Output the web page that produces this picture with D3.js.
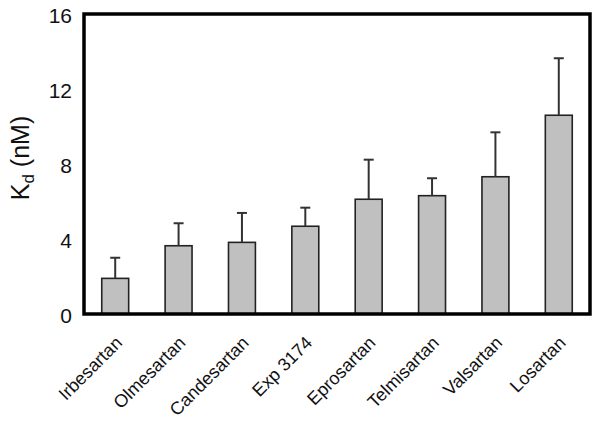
<!DOCTYPE html>
<html><head><meta charset="utf-8">
<script src="https://cdn.jsdelivr.net/npm/d3@7"></script>
<style>body{margin:0;background:#fff}svg{display:block}text{font-family:"Liberation Sans",Arial,sans-serif}</style>
</head><body><svg id="c" width="600" height="422"></svg>
<script>
const categories = ["Irbesartan","Olmesartan","Candesartan","Exp 3174","Eprosartan","Telmisartan","Valsartan","Losartan"];
const kdValues = [1.9, 3.64, 3.82, 4.68, 6.12, 6.31, 7.32, 10.6];
const kdErrors = [1.1, 1.2, 1.57, 0.99, 2.11, 0.93, 2.37, 3.04];
const yTicks = [0, 4, 8, 12, 16];

const svg = d3.select("#c");
const L = 84, R = 590, T = 14, B = 314;
const x = d3.scaleBand().domain(categories).range([L, R]).paddingInner(0.575).paddingOuter(0.28);
const y = d3.scaleLinear().domain([0, 16]).range([B, T]);

// bars
svg.append("g").selectAll("rect").data(categories).join("rect")
  .attr("x", d => x(d)).attr("width", x.bandwidth())
  .attr("y", (d,i) => y(kdValues[i])).attr("height", (d,i) => y(0) - y(kdValues[i]))
  .attr("fill", "#c0c0c0").attr("stroke", "#222").attr("stroke-width", 1.6);

// error bars
const eg = svg.append("g").attr("stroke", "#333").attr("stroke-width", 2);
categories.forEach((c, i) => {
  const cx = x(c) + x.bandwidth() / 2;
  eg.append("line").attr("x1", cx).attr("x2", cx).attr("y1", y(kdValues[i])).attr("y2", y(kdValues[i] + kdErrors[i]));
  eg.append("line").attr("x1", cx - 5).attr("x2", cx + 5).attr("y1", y(kdValues[i] + kdErrors[i])).attr("y2", y(kdValues[i] + kdErrors[i]));
});

// y axis labels
const ya = svg.append("g").attr("transform", `translate(${L},0)`)
  .call(d3.axisLeft(y).tickValues(yTicks).tickSize(0).tickPadding(12));
ya.select(".domain").remove();
ya.selectAll("text").attr("font-size", 21).attr("fill", "#111").attr("font-family", '"Liberation Sans",Arial,sans-serif').attr("dy", "0.42em");

// x labels
const xa = svg.append("g").attr("transform", `translate(0,${B})`)
  .call(d3.axisBottom(x).tickSize(0).tickPadding(0));
xa.select(".domain").remove();
xa.selectAll("text").attr("font-size", 18).attr("fill", "#111")
  .attr("font-family", '"Liberation Sans",Arial,sans-serif')
  .attr("text-anchor", "end").attr("dy", 0).attr("y", 0)
  .attr("transform", "translate(8,30) rotate(-45)");

// frame
svg.append("rect").attr("x", L).attr("y", T).attr("width", R - L).attr("height", B - T)
  .attr("fill", "none").attr("stroke", "#000").attr("stroke-width", 3.5);

// y title
const t = svg.append("text").attr("transform", `translate(29,${(T + B) / 2 - 6}) rotate(-90)`)
  .attr("text-anchor", "middle").attr("font-size", 25).attr("fill", "#111");
t.append("tspan").text("K");
t.append("tspan").attr("font-size", 17).attr("dy", 5).text("d");
t.append("tspan").attr("dy", -5).text(" (nM)");
</script></body></html>
